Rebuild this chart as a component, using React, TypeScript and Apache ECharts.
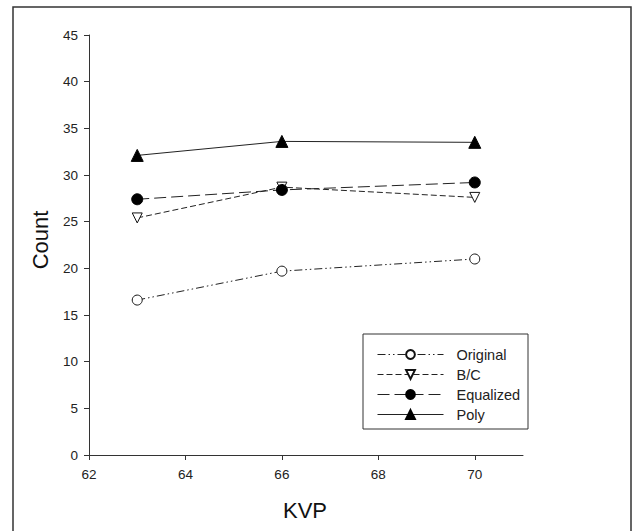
import React, { useEffect, useRef } from "react";
import * as echarts from "echarts";

const kvp = [63, 66, 70];
const original = [16.6, 19.7, 21.0];
const bc = [25.4, 28.7, 27.6];
const equalized = [27.4, 28.4, 29.2];
const poly = [32.1, 33.6, 33.5];
const xTicks = [62, 64, 66, 68, 70];
const seriesNames = ["Original", "B/C", "Equalized", "Poly"];

const FONT = "Liberation Sans";

export default function App() {
  const ref = useRef<HTMLDivElement>(null);
  useEffect(() => {
    if (!ref.current) return;
    const chart = echarts.init(ref.current, undefined, { renderer: "svg" });
    const pts = (arr: number[]) => kvp.map((k, i) => [k, arr[i]]);
    const lineColor = "#222";
    chart.setOption({
      animation: false,
      backgroundColor: "#fff",
      grid: { left: 89, right: 113, top: 35, bottom: 76 },
      xAxis: {
        type: "value",
        min: 62,
        max: 71,
        interval: 2,
        axisLine: { show: true, lineStyle: { color: "#333", width: 1 } },
        axisTick: { show: true, length: 5, customValues: xTicks, lineStyle: { color: "#333" } },
        axisLabel: { customValues: xTicks, margin: 12, color: "#222", fontSize: 13.5, fontFamily: FONT },
        splitLine: { show: false },
      },
      yAxis: {
        type: "value",
        min: 0,
        max: 45,
        interval: 5,
        axisLine: { show: true, lineStyle: { color: "#333", width: 1 } },
        axisTick: { show: true, length: 5, lineStyle: { color: "#333" } },
        axisLabel: { margin: 11, color: "#222", fontSize: 13.5, fontFamily: FONT },
        splitLine: { show: false },
      },
      legend: {
        orient: "vertical",
        left: 372,
        top: 342,
        itemWidth: 66,
        itemHeight: 11,
        itemGap: 5,
        data: seriesNames,
        lineStyle: { width: 1 },
        textStyle: { color: "#222", fontSize: 14.5, fontFamily: FONT, lineHeight: 14, padding: [0, 0, 0, 8] },
      },
      graphic: [
        {
          type: "rect",
          z: -10,
          shape: { x: 13, y: 7, width: 618, height: 620 },
          style: { fill: "none", stroke: "#333", lineWidth: 1.5 },
        },
        {
          type: "rect",
          z: -5,
          shape: { x: 363, y: 334, width: 165, height: 95 },
          style: { fill: "#fff", stroke: "#333", lineWidth: 1 },
        },
        {
          type: "text",
          x: 40,
          y: 240,
          rotation: Math.PI / 2,
          style: { text: "Count", fontSize: 22, fontFamily: FONT, fill: "#111", align: "center", verticalAlign: "middle" },
        },
        {
          type: "text",
          x: 305,
          y: 510,
          style: { text: "KVP", fontSize: 22, fontFamily: FONT, fill: "#111", align: "center", verticalAlign: "middle" },
        },
      ],
      series: [
        {
          name: "Original",
          type: "line",
          data: pts(original),
          symbol: "circle",
          symbolSize: 10,
          itemStyle: { color: "#fff", borderColor: "#111", borderWidth: 1 },
          lineStyle: { color: lineColor, width: 1, type: [8, 3, 1.5, 3, 1.5, 3] },
        },
        {
          name: "B/C",
          type: "line",
          data: pts(bc),
          symbol: "triangle",
          symbolRotate: 180,
          symbolSize: 10,
          itemStyle: { color: "#fff", borderColor: "#111", borderWidth: 1 },
          lineStyle: { color: lineColor, width: 1, type: [6, 3] },
        },
        {
          name: "Equalized",
          type: "line",
          data: pts(equalized),
          symbol: "circle",
          symbolSize: 11,
          itemStyle: { color: "#000", borderColor: "#000", borderWidth: 1 },
          lineStyle: { color: lineColor, width: 1, type: [12, 5] },
        },
        {
          name: "Poly",
          type: "line",
          data: pts(poly),
          symbol: "triangle",
          symbolSize: 12,
          itemStyle: { color: "#000", borderColor: "#000", borderWidth: 1 },
          lineStyle: { color: lineColor, width: 1, type: "solid" },
        },
      ],
    });
    return () => chart.dispose();
  }, []);
  return (
    <div
      ref={ref}
      style={{ position: "fixed", left: 0, top: 0, width: 636, height: 531, background: "#fff" }}
    />
  );
}
